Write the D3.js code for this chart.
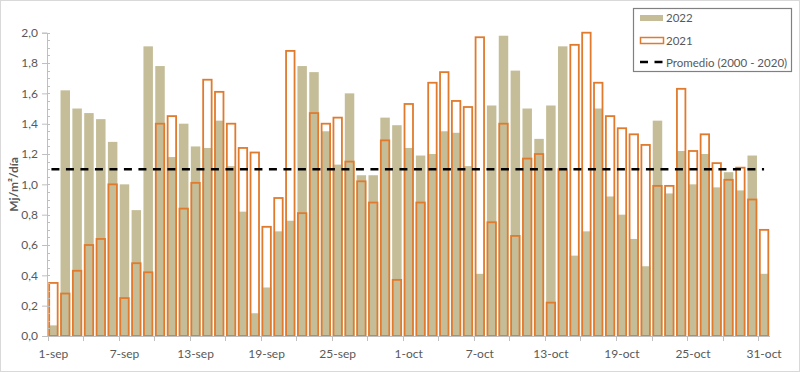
<!DOCTYPE html>
<html>
<head>
<meta charset="utf-8">
<script src="https://cdn.jsdelivr.net/npm/d3@7"></script>
<style>
  html, body { margin: 0; padding: 0; background: #fff; }
  svg { display: block; }
  text { font-family: Lato, "Open Sans", sans-serif; }
</style>
</head>
<body>
<svg id="chart" width="800" height="372"></svg>
<script>
// ---- data ----
const categories = [
  "1-sep","2-sep","3-sep","4-sep","5-sep","6-sep","7-sep","8-sep","9-sep","10-sep",
  "11-sep","12-sep","13-sep","14-sep","15-sep","16-sep","17-sep","18-sep","19-sep","20-sep",
  "21-sep","22-sep","23-sep","24-sep","25-sep","26-sep","27-sep","28-sep","29-sep","30-sep",
  "1-oct","2-oct","3-oct","4-oct","5-oct","6-oct","7-oct","8-oct","9-oct","10-oct",
  "11-oct","12-oct","13-oct","14-oct","15-oct","16-oct","17-oct","18-oct","19-oct","20-oct",
  "21-oct","22-oct","23-oct","24-oct","25-oct","26-oct","27-oct","28-oct","29-oct","30-oct",
  "31-oct"
];
const values2022 = [
  0.07,1.62,1.50,1.47,1.43,1.28,1.00,0.83,1.91,1.78,
  1.18,1.40,1.25,1.24,1.42,1.12,0.82,0.15,0.32,0.69,
  0.76,1.78,1.74,1.35,1.13,1.60,1.06,1.06,1.44,1.39,
  1.24,1.19,1.20,1.35,1.34,1.12,0.41,1.52,1.98,1.75,
  1.50,1.30,1.52,1.91,0.53,0.69,1.50,0.92,0.80,0.64,
  0.46,1.42,0.94,1.22,1.00,1.20,0.98,1.08,0.96,1.19,
  0.41
];
const values2021 = [
  0.35,0.28,0.43,0.60,0.64,1.00,0.25,0.48,0.42,1.40,
  1.45,0.84,1.01,1.69,1.61,1.40,1.24,1.21,0.72,0.91,
  1.88,0.81,1.47,1.40,1.44,1.15,1.02,0.88,1.29,0.37,
  1.53,0.88,1.67,1.74,1.55,1.51,1.97,0.75,1.40,0.66,
  1.17,1.20,0.22,1.10,1.92,2.00,1.67,1.45,1.37,1.33,
  1.26,0.99,0.99,1.63,1.22,1.33,1.14,1.03,1.11,0.90,
  0.70
];
const averageValue = 1.1;
const xTickLabels = ["1-sep","7-sep","13-sep","19-sep","25-sep","1-oct","7-oct","13-oct","19-oct","25-oct","31-oct"];
const yTicks = [0,0.2,0.4,0.6,0.8,1.0,1.2,1.4,1.6,1.8,2.0];
const yMinorTicks = d3.range(0, 41).map(i => i * 0.05);
const seriesNames = ["2022","2021","Promedio (2000 - 2020)"];
const yTitle = "Mj/m²/día";

// ---- styles ----
const colTan = "#C4BD97";
const colOrange = "#E07B2E";
const colText = "#595959";
const colAxis = "#BFBFBF";

const svg = d3.select("#chart");
const W = 800, H = 372;
const plot = { left: 47.5, right: 770, top: 32.7, bottom: 336 };

// outer border
svg.append("rect").attr("x",0.5).attr("y",0.5).attr("width",W-1).attr("height",H-1)
  .attr("fill","#fff").attr("stroke","#D9D9D9");

const x = d3.scaleBand().domain(categories).range([plot.left, plot.right])
  .paddingInner(0.2).paddingOuter(0.1);
const y = d3.scaleLinear().domain([0, 2]).range([plot.bottom, plot.top]);
const step = x.step();
const catStart = c => x(c) - x.paddingInner() * step / 2;

// bars 2022
svg.append("g").selectAll("rect").data(categories).join("rect")
  .attr("x", c => x(c))
  .attr("width", x.bandwidth())
  .attr("y", (c,i) => y(values2022[i]))
  .attr("height", (c,i) => y(0) - y(values2022[i]))
  .attr("fill", colTan);

// bars 2021 (outline)
svg.append("g").selectAll("rect").data(categories).join("rect")
  .attr("x", c => x(c) + 0.5)
  .attr("width", x.bandwidth() - 1)
  .attr("y", (c,i) => y(values2021[i]))
  .attr("height", (c,i) => y(0) - y(values2021[i]))
  .attr("fill", "none")
  .attr("stroke", colOrange)
  .attr("stroke-width", 1.8);

// y axis
const yAxis = svg.append("g").attr("transform", `translate(${plot.left - 0.5},0)`)
  .call(d3.axisLeft(y).tickValues(yTicks).tickSize(5).tickPadding(4)
    .tickFormat(d => d3.format(".1f")(d).replace(".", ",")));
yAxis.select(".domain").attr("stroke", colAxis);
yAxis.selectAll(".tick line").attr("stroke", colAxis);
yAxis.selectAll("text").attr("fill", colText).style("font-size", "12px")
  .style("font-family", "Lato, sans-serif");
svg.append("g").attr("transform", `translate(${plot.left - 0.5},0)`)
  .selectAll("line").data(yMinorTicks).join("line")
  .attr("x1", 0).attr("x2", 3)
  .attr("y1", d => Math.round(y(d)) + 0.5).attr("y2", d => Math.round(y(d)) + 0.5)
  .attr("stroke", colAxis);

// x axis
svg.append("line").attr("x1", plot.left).attr("x2", plot.right)
  .attr("y1", plot.bottom + 0.5).attr("y2", plot.bottom + 0.5).attr("stroke", colAxis);
const tickCats = categories.filter((c,i) => i % 3 === 0);
svg.append("g").selectAll("line").data(tickCats).join("line")
  .attr("x1", c => Math.round(catStart(c)) + 0.5).attr("x2", c => Math.round(catStart(c)) + 0.5)
  .attr("y1", plot.bottom).attr("y2", plot.bottom + 5).attr("stroke", colAxis);
svg.append("g").selectAll("text").data(xTickLabels).join("text")
  .attr("x", c => x(c) + x.bandwidth() / 2)
  .attr("y", plot.bottom + 22)
  .attr("text-anchor", "middle")
  .attr("fill", colText).style("font-size", "12px")
  .text(d => d);

// average line
svg.append("line")
  .attr("x1", x(categories[0]) + x.bandwidth()/2 - 2)
  .attr("x2", x(categories[categories.length-1]) + x.bandwidth()/2)
  .attr("y1", y(averageValue)).attr("y2", y(averageValue))
  .attr("stroke", "#000").attr("stroke-width", 2.5).attr("stroke-dasharray", "8,6.5");

// y title
svg.append("text")
  .attr("transform", `translate(18,${(plot.top + plot.bottom)/2}) rotate(-90)`)
  .attr("text-anchor", "middle")
  .attr("fill", colText).style("font-size", "12px").style("font-weight", "bold")
  .text(yTitle);

// legend
const lg = svg.append("g");
lg.append("rect").attr("x", 633.5).attr("y", 8.5).attr("width", 158).attr("height", 63)
  .attr("fill", "#fff").attr("stroke", "#808080").attr("stroke-width", 1.2);
lg.append("rect").attr("x", 640).attr("y", 15).attr("width", 23).attr("height", 6).attr("fill", colTan);
lg.append("rect").attr("x", 640.5).attr("y", 37.5).attr("width", 23).attr("height", 6)
  .attr("fill", "#fff").attr("stroke", colOrange).attr("stroke-width", 1.5);
lg.append("line").attr("x1", 640).attr("x2", 664).attr("y1", 62).attr("y2", 62)
  .attr("stroke", "#000").attr("stroke-width", 2.5).attr("stroke-dasharray", "8,6.5");
lg.selectAll("text.lbl").data(seriesNames).join("text")
  .attr("class", "lbl")
  .attr("x", 666).attr("y", (d,i) => 18 + i * 22.5)
  .attr("dy", "0.35em")
  .attr("fill", colText).style("font-size", "11.5px")
  .text(d => d);
</script>
</body>
</html>
